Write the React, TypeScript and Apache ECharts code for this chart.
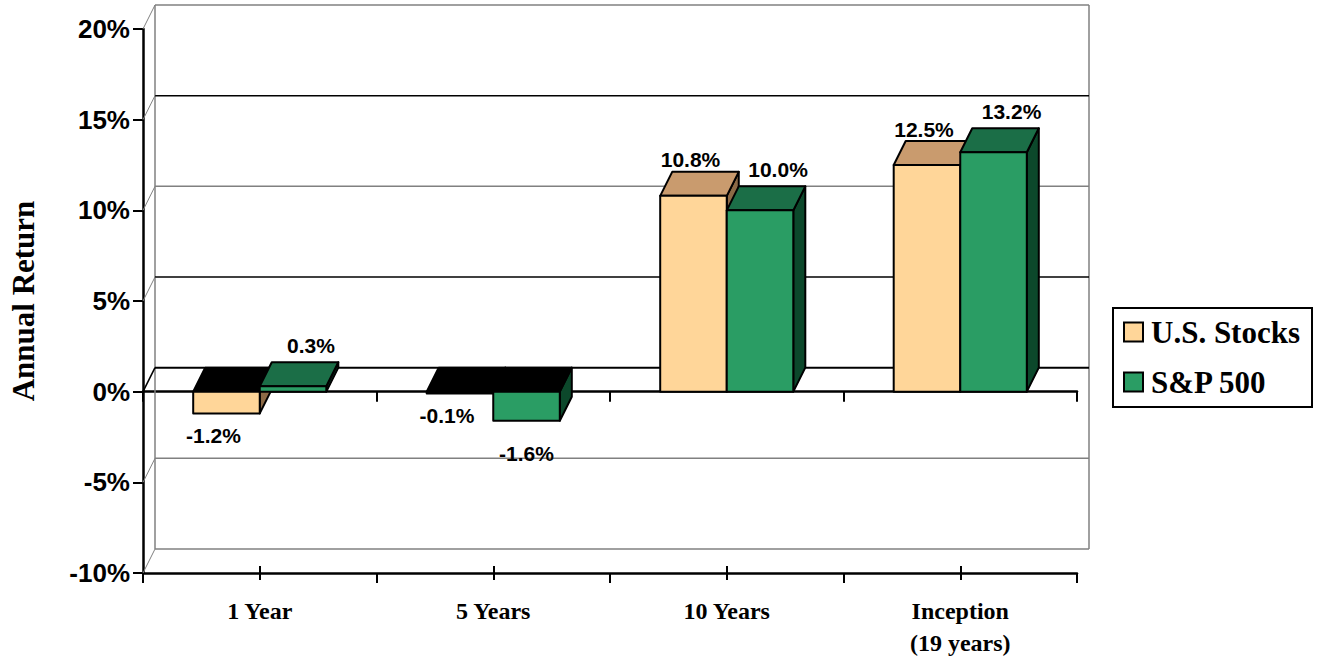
import React, { useEffect, useRef } from "react";
import * as echarts from "echarts";

const categories = ["1 Year", "5 Years", "10 Years", "Inception\n(19 years)"];
const seriesNames = ["U.S. Stocks", "S&P 500"];
const usStocks = [-1.2, -0.1, 10.8, 12.5];
const sp500 = [0.3, -1.6, 10.0, 13.2];
const yTicks = [-10, -5, 0, 5, 10, 15, 20];

const DX = 12;
const DY = -24;
const SANS = '"Liberation Sans", Arial, sans-serif';
const SERIF = '"Liberation Serif", "Times New Roman", serif';

const palettes = [
  { front: "#FFD699", top: "#C99B6E", side: "#8C6A46" },
  { front: "#2A9D64", top: "#1B6E47", side: "#0C482B" },
];
const labelOffsets = [
  { posX: -3, posY: -12, negX: -13, negY: 22 },
  { posX: 18, posY: -17, negX: 0, negY: 33 },
];

function makeBarRender(idx: number) {
  const pal = palettes[idx];
  const off = labelOffsets[idx];
  return (params: any, api: any) => {
    const cat = api.value(0);
    const v = api.value(1);
    const base = api.coord([cat, 0]);
    const end = api.coord([cat, v]);
    const band = api.size([1, 0])[0];
    const w = band * 0.285;
    const x0 = idx === 0 ? base[0] - w : base[0];
    const x1 = x0 + w;
    const yTop = Math.min(base[1], end[1]);
    const yBot = Math.max(base[1], end[1]);
    const stroke = { stroke: "#000", lineWidth: 2, lineJoin: "round" };
    const topFill = v < 0 ? "#000" : pal.top;
    const cx = (x0 + x1) / 2;
    const label =
      v >= 0
        ? { x: cx + off.posX, y: yTop + DY + off.posY }
        : { x: cx + off.negX, y: yBot + off.negY };
    return {
      type: "group",
      children: [
        {
          type: "polygon",
          shape: { points: [[x1, yTop], [x1 + DX, yTop + DY], [x1 + DX, yBot + DY], [x1, yBot]] },
          style: { fill: pal.side, ...stroke },
        },
        {
          type: "polygon",
          shape: { points: [[x0, yTop], [x0 + DX, yTop + DY], [x1 + DX, yTop + DY], [x1, yTop]] },
          style: { fill: topFill, ...stroke },
        },
        {
          type: "rect",
          shape: { x: x0, y: yTop, width: w, height: yBot - yTop },
          style: { fill: pal.front, ...stroke },
        },
        {
          type: "text",
          x: label.x,
          y: label.y,
          style: {
            text: v.toFixed(1) + "%",
            fontSize: 21,
            fontWeight: "bold",
            fontFamily: SANS,
            fill: "#000",
            align: "center",
            verticalAlign: "middle",
          },
        },
      ],
    };
  };
}

function renderWall(params: any, api: any) {
  const t = api.value(1);
  const cs = params.coordSys;
  const y = api.coord([0, t])[1];
  const xl = cs.x;
  const xr = cs.x + cs.width;
  const zero = t === 0;
  const dark = t === 15 || t === 5;
  const color = zero || dark ? "#000" : "#808080";
  const lw = zero ? 2 : 1.5;
  const children: any[] = [
    {
      type: "line",
      shape: { x1: xl + DX, y1: y + DY, x2: xr + DX, y2: y + DY },
      style: { stroke: color, lineWidth: lw },
    },
    {
      type: "line",
      shape: { x1: xl, y1: y, x2: xl + DX, y2: y + DY },
      style: { stroke: zero ? "#000" : "#808080", lineWidth: zero ? 1.5 : 1 },
    },
  ];
  if (params.dataIndex === 0) {
    const yMin = api.coord([0, yTicks[0]])[1];
    const yMax = api.coord([0, yTicks[yTicks.length - 1]])[1];
    children.push(
      { type: "line", shape: { x1: xl + DX, y1: yMax + DY, x2: xl + DX, y2: yMin + DY }, style: { stroke: "#808080", lineWidth: 1.5 } },
      { type: "line", shape: { x1: xr + DX, y1: yMax + DY, x2: xr + DX, y2: yMin + DY }, style: { stroke: "#808080", lineWidth: 1.5 } }
    );
  }
  return { type: "group", children };
}

export default function App() {
  const ref = useRef<HTMLDivElement>(null);
  useEffect(() => {
    if (!ref.current) return;
    const chart = echarts.init(ref.current, undefined, { renderer: "svg" });
    const tickStyle = { color: "#000", width: 2 };
    chart.setOption({
      animation: false,
      backgroundColor: "#fff",
      grid: { left: 139, top: 29, width: 938, height: 544, containLabel: false },
      legend: {
        data: seriesNames,
        orient: "vertical",
        left: 1113,
        top: 308,
        padding: [7, 12, 8, 10],
        itemGap: 16,
        itemWidth: 19,
        itemHeight: 19,
        icon: "rect",
        borderColor: "#000",
        borderWidth: 2,
        textStyle: {
          fontFamily: SERIF,
          fontWeight: "bold",
          fontSize: 31,
          color: "#000",
          lineHeight: 34,
          padding: [0, 0, 0, 3],
        },
        itemStyle: { borderColor: "#000", borderWidth: 2 },
      },
      xAxis: [
        {
          type: "category",
          data: categories,
          axisLine: { onZero: true, lineStyle: { color: "#000", width: 2.5 } },
          axisTick: { show: true, alignWithLabel: false, length: 10, lineStyle: tickStyle },
          axisLabel: { show: false },
          splitLine: { show: false },
        },
        {
          type: "category",
          data: categories,
          position: "bottom",
          axisLine: { onZero: false, lineStyle: { color: "#000", width: 2.5 } },
          axisTick: { show: true, alignWithLabel: false, length: 10, lineStyle: tickStyle },
          axisLabel: {
            interval: 0,
            fontFamily: SERIF,
            fontWeight: "bold",
            fontSize: 24,
            color: "#000",
            margin: 22,
            lineHeight: 32,
          },
          splitLine: { show: false },
        },
        {
          type: "category",
          data: categories,
          position: "bottom",
          offset: -7,
          axisLine: { show: false, onZero: false },
          axisTick: { show: true, alignWithLabel: true, length: 14, lineStyle: tickStyle },
          axisLabel: { show: false },
          splitLine: { show: false },
        },
      ],
      yAxis: {
        type: "value",
        min: yTicks[0],
        max: yTicks[yTicks.length - 1],
        interval: 5,
        axisLine: { show: true, lineStyle: { color: "#000", width: 2.5 } },
        axisTick: { show: true, length: 10, lineStyle: tickStyle },
        splitLine: { show: false },
        axisLabel: {
          formatter: "{value}%",
          fontFamily: SANS,
          fontWeight: "bold",
          fontSize: 26,
          color: "#000",
          margin: 13,
        },
        name: "Annual Return",
        nameLocation: "middle",
        nameGap: 104,
        nameTextStyle: { fontFamily: SERIF, fontWeight: "bold", fontSize: 31, color: "#000" },
      },
      series: [
        {
          type: "custom",
          name: "walls",
          silent: true,
          z: 1,
          xAxisIndex: 0,
          data: yTicks.map((t) => [0, t]),
          renderItem: renderWall,
        },
        {
          type: "custom",
          name: seriesNames[0],
          z: 3,
          xAxisIndex: 0,
          itemStyle: { color: palettes[0].front, borderColor: "#000", borderWidth: 2 },
          data: usStocks.map((v, i) => [i, v]),
          renderItem: makeBarRender(0),
        },
        {
          type: "custom",
          name: seriesNames[1],
          z: 3,
          xAxisIndex: 0,
          itemStyle: { color: palettes[1].front, borderColor: "#000", borderWidth: 2 },
          data: sp500.map((v, i) => [i, v]),
          renderItem: makeBarRender(1),
        },
      ],
    });
    return () => chart.dispose();
  }, []);
  return (
    <div
      ref={ref}
      style={{ position: "fixed", left: 0, top: 0, width: 1317, height: 659, background: "#fff" }}
    />
  );
}
